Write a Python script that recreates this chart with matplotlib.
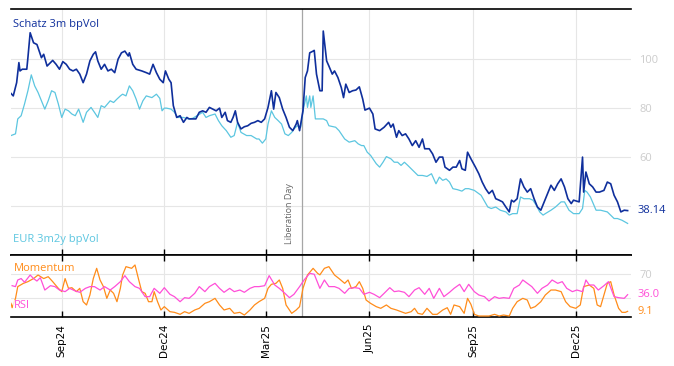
import numpy as np
import pandas as pd
import matplotlib
matplotlib.use('Agg')
import matplotlib.pyplot as plt
import matplotlib.dates as mdates

# Origine des jours (premier point de la série)
DEBUT = pd.Timestamp('2024-07-18')
FIN = pd.Timestamp('2026-01-19')
LIBERATION = pd.Timestamp('2025-04-02')

# Schatz 3m bpVol (jours depuis DEBUT, valeurs)
schatz_jours = [0, 2, 5, 7, 8, 10, 14, 15, 17, 20, 23, 24, 27, 29, 32, 35, 37, 40, 43, 46,
                49, 52, 55, 58, 61, 64, 67, 70, 73, 75, 77, 80, 83, 86, 89, 92, 95, 98, 101, 104,
                105, 108, 111, 116, 120, 123, 126, 129, 132, 135, 137, 140, 142, 144, 147, 150, 153, 156, 158, 164,
                167, 170, 173, 176, 179, 182, 185, 187, 190, 192, 195, 197, 199, 201, 204, 207, 210, 213, 216, 219,
                222, 225, 228, 231, 233, 235, 238, 241, 244, 247, 250, 253, 254, 256, 259, 261, 263, 265, 268, 269,
                271, 274, 276, 277, 280, 282, 285, 287, 290, 293, 295, 297, 300, 303, 306, 309, 312, 314, 318, 321,
                323, 327, 331, 335, 337, 339, 342, 344, 347, 350, 353, 356, 359, 362, 365, 367, 371, 374, 377, 380,
                383, 385, 389, 392, 395, 398, 400, 403, 405, 408, 412, 415, 418, 421, 424, 427, 430, 433, 436, 439,
                442, 444, 446, 449, 452, 455, 458, 461, 464, 467, 470, 473, 476, 479, 482, 485, 488, 491, 494, 497,
                499, 504, 507, 508, 510, 513, 516, 519, 522, 526, 529, 532, 535, 538, 541, 544, 547]
schatz_vals = [86.0, 85.0, 90.4, 98.6, 95.2, 95.9, 95.9, 100.6, 110.8, 106.7, 106.0, 104.7, 100.6, 102.0, 97.2, 98.6, 99.5, 97.9, 95.9, 99.0,
               97.9, 95.9, 95.2, 95.9, 93.9, 90.4, 93.9, 99.3, 102.0, 103.0, 99.3, 95.9, 97.9, 95.2, 95.9, 94.5, 100.0, 102.6, 103.3, 101.3,
               102.6, 97.9, 95.9, 95.2, 94.5, 93.9, 97.9, 94.5, 91.8, 90.4, 95.2, 91.8, 90.4, 81.0, 76.2, 76.9, 74.2, 76.2, 75.6, 75.6,
               78.3, 78.9, 78.3, 80.3, 79.6, 78.9, 80.0, 76.2, 78.3, 74.9, 74.2, 76.2, 78.9, 74.2, 71.5, 72.4, 72.8, 73.8, 74.2, 74.9,
               74.2, 75.6, 80.3, 87.1, 79.6, 86.4, 84.3, 79.6, 76.2, 72.2, 70.8, 73.5, 74.9, 70.8, 78.9, 92.5, 95.2, 102.6, 103.3, 103.6,
               93.9, 87.1, 87.1, 111.5, 99.3, 97.2, 93.9, 95.2, 92.5, 88.4, 84.3, 89.8, 86.4, 87.1, 87.4, 88.7, 83.7, 79.2, 80.0, 77.6,
               71.5, 70.8, 72.2, 74.2, 72.2, 73.5, 68.1, 70.8, 68.8, 69.5, 67.4, 64.7, 66.7, 64.0, 67.4, 63.4, 63.4, 61.3, 57.9, 60.0,
               60.0, 55.9, 54.6, 55.9, 55.9, 58.6, 55.2, 54.6, 62.0, 59.3, 55.9, 53.2, 49.8, 47.1, 45.1, 46.4, 43.0, 42.4, 41.7, 39.6,
               37.6, 42.4, 41.7, 43.0, 51.1, 47.8, 45.7, 47.1, 43.0, 39.6, 38.3, 41.7, 45.1, 48.5, 46.4, 49.1, 51.1, 47.8, 43.0, 41.0,
               42.4, 41.7, 60.0, 45.7, 53.9, 49.1, 47.8, 45.7, 45.7, 46.4, 49.8, 49.1, 44.4, 41.7, 37.6, 38.3, 38.14]

# EUR 3m2y bpVol
eur_jours = [0, 4, 6, 9, 12, 15, 18, 21, 24, 27, 30, 33, 36, 39, 42, 45, 48, 51, 54, 57,
             60, 64, 67, 71, 74, 77, 80, 83, 88, 91, 94, 97, 99, 102, 105, 108, 111, 114, 117, 120,
             125, 129, 132, 134, 136, 138, 142, 145, 148, 153, 157, 161, 166, 170, 173, 176, 181, 184, 187, 191,
             195, 198, 201, 204, 209, 213, 218, 220, 223, 226, 228, 231, 234, 237, 240, 243, 246, 249, 251, 254,
             257, 259, 262, 263, 265, 266, 268, 270, 277, 280, 282, 288, 291, 296, 300, 305, 308, 311, 313, 316,
             319, 324, 327, 330, 333, 337, 340, 343, 346, 349, 352, 356, 361, 365, 369, 373, 375, 377, 380, 383,
             386, 389, 392, 396, 400, 403, 406, 411, 417, 423, 426, 430, 434, 439, 442, 445, 449, 452, 455, 460,
             463, 466, 469, 472, 474, 479, 483, 488, 491, 495, 499, 504, 507, 509, 511, 514, 519, 523, 529, 535,
             538, 542, 547]
eur_vals = [68.8, 69.5, 75.6, 76.9, 81.7, 87.1, 93.6, 89.1, 86.4, 83.0, 79.6, 83.0, 87.1, 86.4, 81.7, 76.2, 79.6, 78.9, 77.6, 76.9,
            79.6, 74.2, 78.3, 80.3, 78.3, 76.2, 81.0, 80.3, 83.0, 82.3, 83.7, 85.0, 85.7, 85.0, 89.1, 87.1, 83.7, 79.6, 83.0, 85.0,
            84.3, 85.7, 84.0, 78.9, 80.0, 80.0, 79.6, 78.3, 76.2, 76.2, 75.6, 75.8, 77.2, 78.3, 76.2, 76.9, 77.6, 74.9, 72.8, 70.8,
            68.1, 68.8, 74.2, 70.1, 68.8, 68.8, 67.4, 67.4, 65.7, 67.4, 73.5, 78.9, 76.2, 74.9, 73.5, 69.5, 68.8, 70.1, 71.5, 72.8,
            72.2, 78.9, 85.0, 80.3, 85.0, 80.3, 85.0, 75.6, 75.6, 74.9, 72.8, 72.2, 70.8, 67.4, 66.1, 66.7, 65.4, 64.7, 64.7, 62.0,
            60.7, 57.3, 55.9, 57.9, 60.2, 59.3, 57.9, 57.9, 56.6, 57.9, 56.6, 54.8, 52.5, 52.5, 52.1, 53.2, 51.1, 49.1, 51.8, 50.5,
            51.1, 49.8, 47.1, 46.7, 46.1, 47.1, 47.1, 46.4, 44.4, 39.6, 39.0, 39.6, 38.3, 37.6, 36.3, 36.9, 36.9, 43.7, 43.0, 43.0,
            42.4, 40.3, 37.6, 36.3, 36.9, 38.3, 39.6, 41.7, 41.7, 38.3, 36.9, 36.9, 39.0, 46.4, 45.7, 43.7, 38.3, 38.3, 37.6, 34.9,
            34.9, 34.2, 32.9]

# RSI
rsi_jours = [1, 4, 6, 9, 12, 17, 20, 23, 26, 30, 35, 39, 43, 48, 52, 57, 61, 66, 70, 74,
             79, 83, 88, 92, 97, 101, 105, 110, 114, 119, 123, 127, 132, 136, 141, 145, 150, 154, 158, 163,
             167, 172, 176, 181, 185, 189, 194, 198, 203, 207, 212, 216, 220, 225, 229, 234, 238, 243, 247, 251,
             256, 260, 265, 269, 274, 278, 282, 287, 291, 296, 300, 305, 309, 313, 318, 322, 327, 331, 336, 340,
             344, 349, 353, 358, 362, 367, 371, 375, 380, 384, 389, 393, 398, 402, 406, 411, 415, 420, 424, 429,
             433, 437, 442, 446, 451, 454, 458, 462, 467, 471, 476, 480, 485, 489, 493, 498, 502, 507, 510, 513,
             517, 521, 526, 530, 535, 539, 544, 547]
rsi_vals = [50.5, 49.0, 59.7, 62.0, 56.0, 67.7, 62.0, 58.0, 63.4, 43.5, 50.5, 49.0, 43.5, 40.9, 46.2, 42.0, 39.8, 46.2, 49.0, 49.0,
            43.5, 49.0, 43.5, 49.0, 57.0, 66.7, 57.0, 49.0, 46.2, 32.8, 32.8, 46.2, 38.2, 47.3, 36.6, 32.8, 24.7, 31.2, 30.1, 38.2,
            49.0, 40.9, 49.0, 54.3, 46.2, 39.8, 46.2, 40.9, 43.5, 39.8, 46.2, 49.0, 49.0, 50.5, 66.7, 51.6, 46.2, 38.2, 31.2, 36.6,
            49.0, 59.7, 70.4, 69.0, 46.2, 59.7, 49.0, 49.0, 46.2, 38.2, 46.2, 47.3, 46.2, 36.6, 39.8, 36.6, 31.2, 38.2, 47.3, 40.9,
            42.0, 39.8, 32.8, 43.5, 47.3, 36.6, 46.2, 30.1, 46.2, 32.8, 39.8, 46.2, 52.7, 40.9, 52.7, 40.9, 35.5, 32.8, 25.8, 32.8,
            30.1, 31.2, 30.1, 46.2, 51.6, 59.7, 54.3, 49.0, 38.2, 46.2, 51.6, 59.7, 54.3, 57.0, 46.2, 40.9, 43.5, 40.9, 59.7, 51.6,
            51.6, 43.5, 50.5, 57.0, 32.8, 31.2, 30.1, 36.0]

# Momentum
mom_jours = [0, 1, 4, 6, 11, 15, 20, 24, 29, 33, 37, 42, 45, 48, 51, 54, 58, 61, 64, 67,
             70, 73, 76, 79, 82, 85, 88, 91, 94, 97, 99, 102, 107, 110, 113, 116, 119, 122, 125, 127,
             130, 133, 136, 141, 145, 150, 154, 158, 163, 167, 172, 176, 181, 185, 189, 194, 198, 203, 207, 212,
             216, 220, 225, 228, 231, 235, 238, 241, 244, 249, 253, 256, 259, 263, 268, 272, 274, 278, 282, 287,
             291, 296, 299, 302, 306, 309, 312, 315, 319, 324, 328, 333, 337, 342, 346, 350, 355, 358, 361, 365,
             369, 374, 378, 383, 387, 390, 393, 398, 402, 405, 408, 411, 415, 420, 424, 429, 433, 437, 442, 445,
             449, 454, 458, 461, 465, 470, 474, 479, 483, 488, 492, 496, 501, 505, 508, 513, 517, 520, 523, 526,
             529, 532, 535, 539, 542, 545, 547]
mom_vals = [22.0, 15.0, 30.0, 49.0, 54.3, 57.0, 62.0, 67.7, 62.0, 65.0, 57.0, 46.2, 40.9, 62.0, 46.2, 47.3, 40.9, 46.2, 24.7, 19.4,
            35.5, 62.0, 78.5, 59.7, 49.0, 30.1, 43.5, 38.2, 24.7, 46.2, 67.7, 81.2, 78.5, 83.9, 62.0, 40.9, 38.2, 24.7, 24.7, 40.9,
            24.7, 11.3, 16.7, 8.6, 7.5, 4.3, 8.6, 5.9, 11.3, 14.0, 22.0, 24.7, 30.1, 19.4, 11.3, 14.0, 5.9, 7.5, 3.2, 11.3,
            19.4, 24.7, 30.1, 46.2, 52.7, 54.3, 59.7, 46.2, 19.4, 5.9, 11.3, 16.7, 46.2, 67.7, 78.5, 70.4, 68.0, 78.5, 81.2, 67.7,
            62.0, 54.3, 59.7, 46.2, 49.0, 57.0, 46.2, 27.4, 22.0, 16.7, 14.0, 19.4, 14.0, 11.3, 8.6, 5.9, 8.6, 14.0, 5.9, 4.3,
            14.0, 4.3, 4.3, 11.3, 15.0, 4.3, 19.4, 16.7, 5.9, 30.1, 20.4, 4.3, 1.6, 1.6, 1.6, 4.3, 1.6, 3.2, 1.6, 14.0,
            24.7, 30.1, 27.4, 14.0, 16.7, 24.7, 35.5, 43.5, 43.5, 40.9, 24.7, 16.7, 14.0, 19.4, 49.0, 51.6, 46.2, 19.4, 16.7, 35.5,
            54.3, 57.0, 35.5, 14.0, 7.5, 7.5, 9.1]

BLEU_FONCE = '#0f2f9c'
BLEU_CLAIR = '#5cc6e0'
ORANGE = '#ff8c1a'
MAGENTA = '#ff4fd8'
GRIS_TEXTE = '#cccccc'
GRILLE = '#e6e6e6'
POLICE = 'Open Sans'


def dates(jours):
    return DEBUT + pd.to_timedelta(jours, unit='D')


fig = plt.figure(figsize=(6.74, 3.66), dpi=100)
ax = fig.add_axes([11 / 674, 1 - 255 / 366, 620 / 674, 246 / 366])
ax2 = fig.add_axes([11 / 674, 1 - 317 / 366, 620 / 674, 62 / 366], sharex=ax)

# Panneau du haut : volatilités
ax.plot(dates(eur_jours), eur_vals, color=BLEU_CLAIR, lw=0.9, zorder=3)
ax.plot(dates(schatz_jours), schatz_vals, color=BLEU_FONCE, lw=1.2, zorder=4)
ax.set_ylim(20, 120.5)
ax.set_yticks([40, 60, 80, 100])
# le 40 est caché par la dernière valeur
ax.set_yticklabels(['', '60', '80', '100'])

# Panneau du bas : momentum et RSI
ax2.plot(dates(mom_jours), mom_vals, color=ORANGE, lw=0.9, zorder=3)
ax2.plot(dates(rsi_jours), rsi_vals, color=MAGENTA, lw=0.9, zorder=4)
ax2.set_ylim(0, 100)
ax2.set_yticks([30, 70])
ax2.set_yticklabels(['', '70'])

ax.set_xlim(DEBUT, FIN)
ax2.xaxis.set_major_locator(mdates.MonthLocator(bymonth=[3, 6, 9, 12]))
ax2.xaxis.set_major_formatter(mdates.DateFormatter('%b%y'))

for a in (ax, ax2):
    a.grid(True, color=GRILLE, lw=0.8, zorder=0)
    a.set_axisbelow(True)
    a.spines['left'].set_visible(False)
    a.spines['right'].set_visible(False)
    a.spines['top'].set_linewidth(1.2)
    a.spines['bottom'].set_linewidth(1.2)
    a.yaxis.tick_right()
    a.tick_params(axis='y', length=0, pad=6, labelcolor=GRIS_TEXTE, labelsize=8)
    for lab in a.get_yticklabels():
        lab.set_fontfamily(POLICE)
    a.axvline(LIBERATION, color='#a6a6a6', lw=0.9, zorder=2)

ax.tick_params(axis='x', direction='in', length=4, labelbottom=False, width=1)
ax2.tick_params(axis='x', direction='in', length=4, top=True, width=1,
                labelrotation=90, labelsize=7.5, pad=5)

# Libellés des séries
ax.text(0.004, 0.935, 'Schatz 3m bpVol', transform=ax.transAxes, color=BLEU_FONCE,
        fontsize=8, family=POLICE, va='center', ha='left')
ax.text(0.004, 0.065, 'EUR 3m2y bpVol', transform=ax.transAxes, color=BLEU_CLAIR,
        fontsize=8, family=POLICE, va='center', ha='left')
ax.text(LIBERATION - pd.Timedelta(days=11), 24.5, 'Liberation Day', rotation=90,
        color='#666666', fontsize=6.5, family=POLICE, ha='center', va='bottom')
ax2.text(0.004, 0.79, 'Momentum', transform=ax2.transAxes, color=ORANGE,
         fontsize=8, family=POLICE, va='center', ha='left',
         bbox=dict(facecolor='white', edgecolor='none', alpha=0.8, pad=0.5), zorder=5)
ax2.text(0.004, 0.18, 'RSI', transform=ax2.transAxes, color=MAGENTA,
         fontsize=8, family=POLICE, va='center', ha='left',
         bbox=dict(facecolor='white', edgecolor='none', alpha=0.8, pad=0.5), zorder=5)

# Dernières valeurs à droite
ax.annotate(f'{schatz_vals[-1]:.2f}', xy=(1, schatz_vals[-1]), xycoords=('axes fraction', 'data'),
            xytext=(4.5, 0), textcoords='offset points', color=BLEU_FONCE, fontsize=8,
            family=POLICE, va='center', ha='left')
ax2.annotate(f'{rsi_vals[-1]:.1f}', xy=(1, rsi_vals[-1]), xycoords=('axes fraction', 'data'),
             xytext=(4.5, 0), textcoords='offset points', color=MAGENTA, fontsize=8,
             family=POLICE, va='center', ha='left')
ax2.annotate(f'{mom_vals[-1]:.1f}', xy=(1, mom_vals[-1]), xycoords=('axes fraction', 'data'),
             xytext=(4.5, 0), textcoords='offset points', color=ORANGE, fontsize=8,
             family=POLICE, va='center', ha='left')

fig.savefig('out.png', dpi=100)
